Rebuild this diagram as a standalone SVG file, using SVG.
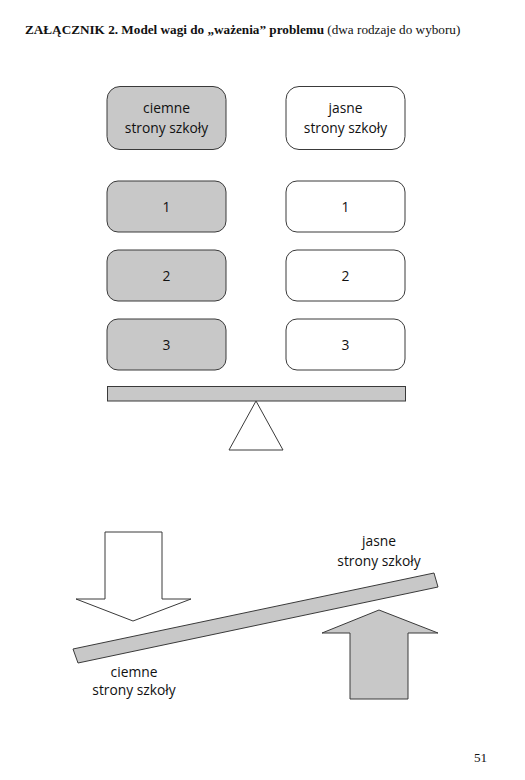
<svg xmlns="http://www.w3.org/2000/svg" width="525" height="780" viewBox="0 0 525 780">
<style>
.dark{fill:#c8c8c8;stroke:#3a3a3a;stroke-width:1}
.light{fill:#ffffff;stroke:#3a3a3a;stroke-width:1}
.lbl{font-family:"Open Sans","Noto Sans",sans-serif;font-size:13.8px;fill:#111;text-anchor:middle}
.title{font-family:"Liberation Serif",serif;font-size:13.2px;fill:#111}
</style>
<rect width="525" height="780" fill="#fff"/>
<text class="title" x="25" y="34"><tspan font-weight="bold">ZAŁĄCZNIK 2. Model wagi do „ważenia” problemu</tspan> (dwa rodzaje do wyboru)</text>
<g id="box-dark-head"><rect class="dark" x="107" y="86.5" width="119" height="63" rx="13"/><text class="lbl" x="166.5" y="113">ciemne</text><text class="lbl" x="166.5" y="133">strony szkoły</text></g>
<g id="box-light-head"><rect class="light" x="286" y="86.5" width="119" height="63" rx="13"/><text class="lbl" x="345.5" y="113">jasne</text><text class="lbl" x="345.5" y="133">strony szkoły</text></g>
<g id="box-dark-1"><rect class="dark" x="107" y="181" width="119" height="51" rx="11"/><text class="lbl" x="166.5" y="212">1</text></g>
<g id="box-light-1"><rect class="light" x="286" y="181" width="119" height="51" rx="11"/><text class="lbl" x="345.5" y="212">1</text></g>
<g id="box-dark-2"><rect class="dark" x="107" y="250" width="119" height="51" rx="11"/><text class="lbl" x="166.5" y="281">2</text></g>
<g id="box-light-2"><rect class="light" x="286" y="250" width="119" height="51" rx="11"/><text class="lbl" x="345.5" y="281">2</text></g>
<g id="box-dark-3"><rect class="dark" x="107" y="319" width="119" height="51" rx="11"/><text class="lbl" x="166.5" y="350">3</text></g>
<g id="box-light-3"><rect class="light" x="286" y="319" width="119" height="51" rx="11"/><text class="lbl" x="345.5" y="350">3</text></g>
<g id="scale-balanced">
<rect class="dark" x="107.5" y="386.5" width="298" height="14.5"/>
<polygon class="light" points="256,401 283,450 229,450"/>
</g>
<g id="scale-tilted">
<polygon class="light" points="105,532 162,532 162,599 191,599 133,621 76,599 105,599"/>
<polygon class="dark" points="73,649 434,573 438,587 78,663"/>
<polygon class="dark" points="379,610 438,633 408,633 408,699 350,699 350,633 322,633"/>
<text class="lbl" x="379" y="546">jasne</text>
<text class="lbl" x="379" y="566">strony szkoły</text>
<text class="lbl" x="134" y="677">ciemne</text>
<text class="lbl" x="134" y="695">strony szkoły</text>
</g>
<text class="title" x="474" y="762" font-size="14">51</text>
</svg>
